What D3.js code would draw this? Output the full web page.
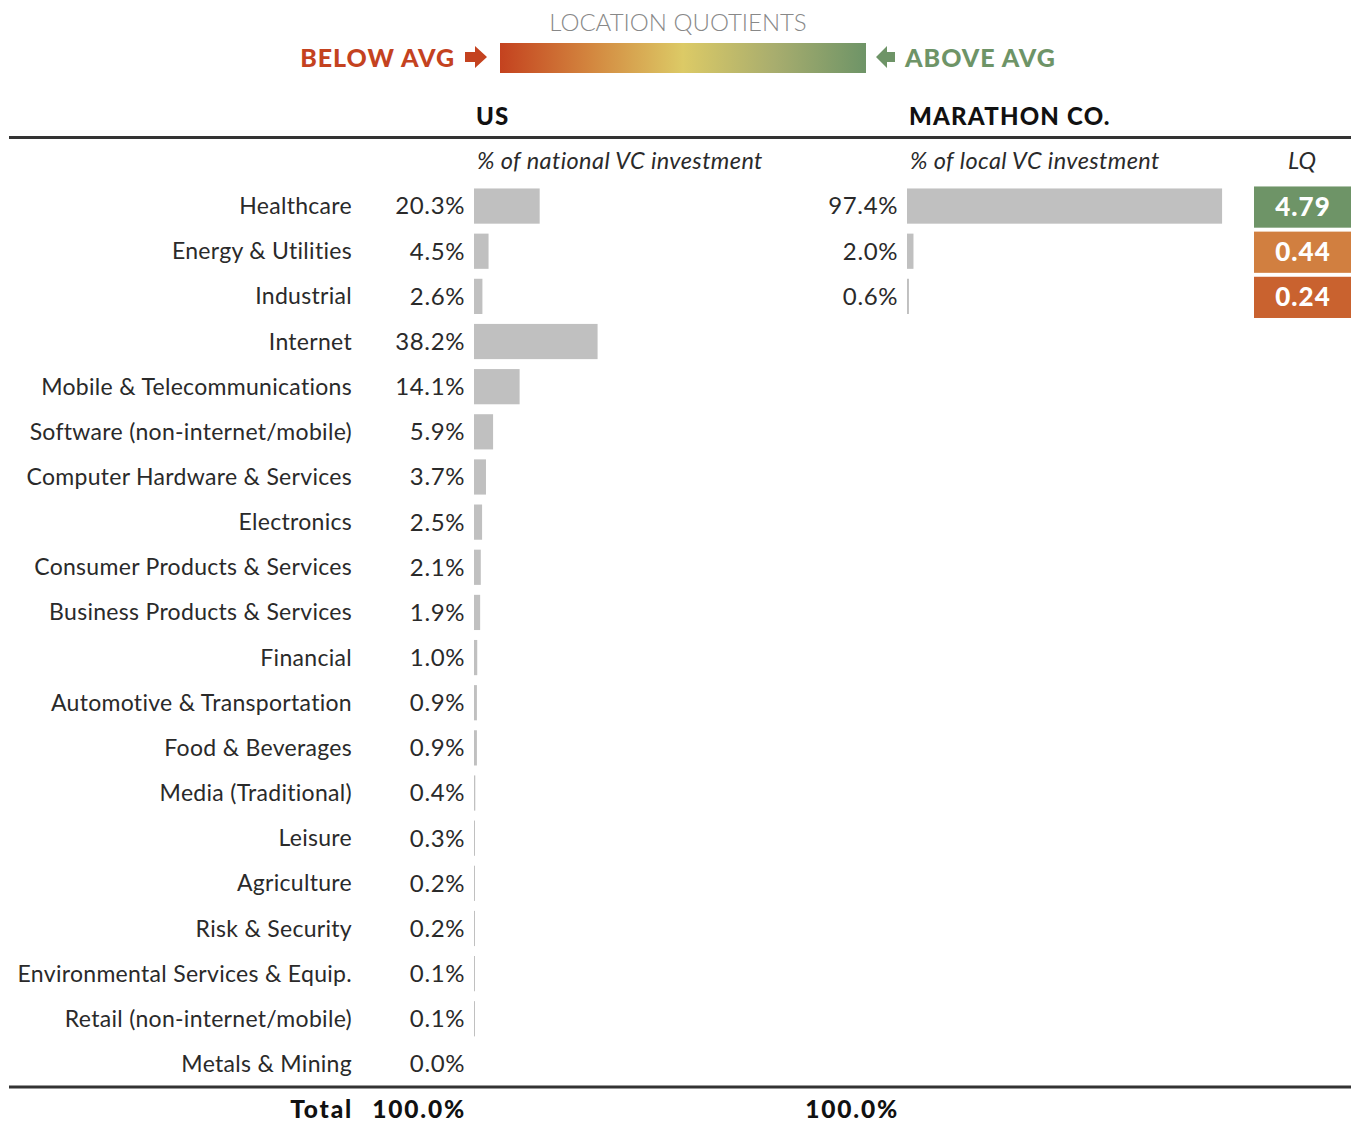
<!DOCTYPE html>
<html><head><meta charset="utf-8">
<script src="https://cdn.jsdelivr.net/npm/d3@7"></script>
<style>body{margin:0;background:#fff}svg{display:block}</style>
</head><body>
<svg id="c" width="1353" height="1122"></svg>
<script>
const categories = ["Healthcare","Energy & Utilities","Industrial","Internet","Mobile & Telecommunications","Software (non-internet/mobile)","Computer Hardware & Services","Electronics","Consumer Products & Services","Business Products & Services","Financial","Automotive & Transportation","Food & Beverages","Media (Traditional)","Leisure","Agriculture","Risk & Security","Environmental Services & Equip.","Retail (non-internet/mobile)","Metals & Mining"];
const usValues = [20.3,4.5,2.6,38.2,14.1,5.9,3.7,2.5,2.1,1.9,1.0,0.9,0.9,0.4,0.3,0.2,0.2,0.1,0.1,0.0];
const localValues = [97.4,2.0,0.6,null,null,null,null,null,null,null,null,null,null,null,null,null,null,null,null,null];
const lqValues = [4.79,0.44,0.24,null,null,null,null,null,null,null,null,null,null,null,null,null,null,null,null,null];
const totals = {us:"100.0%", local:"100.0%"};

const svg = d3.select("#c");
const font = "Lato, 'Open Sans', sans-serif";
const txt = "#2a2a2a";

// Header legend
svg.append("text").attr("x",678).attr("y",31).attr("text-anchor","middle")
  .attr("font-family",font).attr("font-weight",300).attr("font-size",24).attr("fill","#888").text("LOCATION QUOTIENTS");
const defs = svg.append("defs");
const grad = defs.append("linearGradient").attr("id","g");
[["0%","#c4421f"],["25%","#d3873f"],["50%","#dcca66"],["75%","#a8ad6e"],["100%","#6e9467"]].forEach(([o,c])=>grad.append("stop").attr("offset",o).attr("stop-color",c));
svg.append("rect").attr("x",500).attr("y",43).attr("width",366).attr("height",30).attr("fill","url(#g)");
svg.append("text").attr("x",455).attr("y",67).attr("text-anchor","end").attr("font-family",font).attr("font-weight",900)
  .attr("font-size",25).attr("letter-spacing",1).attr("fill","#c4421f").text("BELOW AVG");
svg.append("path").attr("d","M465,52 h10 v-6 l12,11 l-12,11 v-6 h-10 z").attr("fill","#c4421f");
svg.append("path").attr("d","M895,52 h-8 v-6 l-11,11 l11,11 v-6 h8 z").attr("fill","#6e9467");
svg.append("text").attr("x",905).attr("y",67).attr("font-family",font).attr("font-weight",900)
  .attr("font-size",25).attr("letter-spacing",1).attr("fill","#6e9467").text("ABOVE AVG");

// Column headers
svg.append("text").attr("x",476).attr("y",125).attr("font-family",font).attr("font-weight",900).attr("font-size",24).attr("letter-spacing",1).attr("fill","#111").text("US");
svg.append("text").attr("x",909).attr("y",125).attr("font-family",font).attr("font-weight",900).attr("font-size",24).attr("letter-spacing",1.2).attr("fill","#111").text("MARATHON CO.");
svg.append("rect").attr("x",9).attr("y",136).attr("width",1342).attr("height",3).attr("fill","#333");
const sub = {"font-family":font,"font-style":"italic","font-weight":400,"font-size":23.5,"fill":txt};
const addSub=(x,t,anchor)=>{const e=svg.append("text").attr("x",x).attr("y",169).attr("text-anchor",anchor||"start").text(t);Object.entries(sub).forEach(([k,v])=>e.attr(k,v));return e;};
addSub(477,"% of national VC investment").attr("letter-spacing",0.4);
addSub(910,"% of local VC investment").attr("letter-spacing",0.4);
addSub(1302,"LQ","middle");

// Scales
const y = d3.scaleBand().domain(categories).range([183.5, 1086.5]).paddingInner(0.22).paddingOuter(0.11);
const x = d3.scaleLinear().domain([0,100]).range([0,323.5]);
const usX0 = 474, locX0 = 907;
const w = v => v>0 ? Math.max(1, x(v)) : 0;

const lab = {"font-family":font,"font-weight":400,"font-size":23,"fill":txt};
const num = {"font-family":font,"font-weight":400,"font-size":24,"fill":txt,"letter-spacing":0.6};
const apply=(sel,o)=>{Object.entries(o).forEach(([k,v])=>sel.attr(k,v));return sel;};

const rows = svg.append("g").selectAll("g").data(categories).join("g")
  .attr("transform", d=>`translate(0,${y(d)})`);
const bh = y.bandwidth();
apply(rows.append("text").attr("x",352).attr("y",bh/2).attr("dy","0.35em").attr("text-anchor","end").attr("letter-spacing",0.3),lab).text(d=>d);
apply(rows.append("text").attr("x",465).attr("y",bh/2).attr("dy","0.35em").attr("text-anchor","end"),num).text((d,i)=>usValues[i].toFixed(1)+"%");
rows.append("rect").attr("x",usX0).attr("y",0).attr("height",bh).attr("width",(d,i)=>w(usValues[i])).attr("fill","#c0c0c0");
rows.filter((d,i)=>localValues[i]!=null).each(function(d){
  const i = categories.indexOf(d);
  const g = d3.select(this);
  apply(g.append("text").attr("x",898).attr("y",bh/2).attr("dy","0.35em").attr("text-anchor","end"),num).text(localValues[i].toFixed(1)+"%");
  g.append("rect").attr("x",locX0).attr("y",0).attr("height",bh).attr("width",w(localValues[i])).attr("fill","#c0c0c0");
  const lq = lqValues[i];
  const col = lq>=1 ? "#6e9467" : (lq>0.35 ? "#d17f40" : "#c9622f");
  g.append("rect").attr("x",1254).attr("y",-2).attr("width",97).attr("height",bh+6).attr("fill",col);
  g.append("text").attr("x",1303).attr("y",bh/2+1).attr("dy","0.35em").attr("text-anchor","middle")
    .attr("font-family",font).attr("font-weight",900).attr("font-size",26).attr("letter-spacing",1).attr("fill","#fff").text(lq.toFixed(2));
});

// Bottom rule and totals
svg.append("rect").attr("x",9).attr("y",1085.5).attr("width",1342).attr("height",3).attr("fill","#333");
const tot = {"font-family":font,"font-weight":900,"font-size":24.5,"fill":"#111","letter-spacing":1.8,"text-anchor":"end"};
apply(svg.append("text").attr("x",353).attr("y",1118),tot).text("Total");
apply(svg.append("text").attr("x",466).attr("y",1118),tot).text(totals.us);
apply(svg.append("text").attr("x",899).attr("y",1118),tot).text(totals.local);
</script>
</body></html>
